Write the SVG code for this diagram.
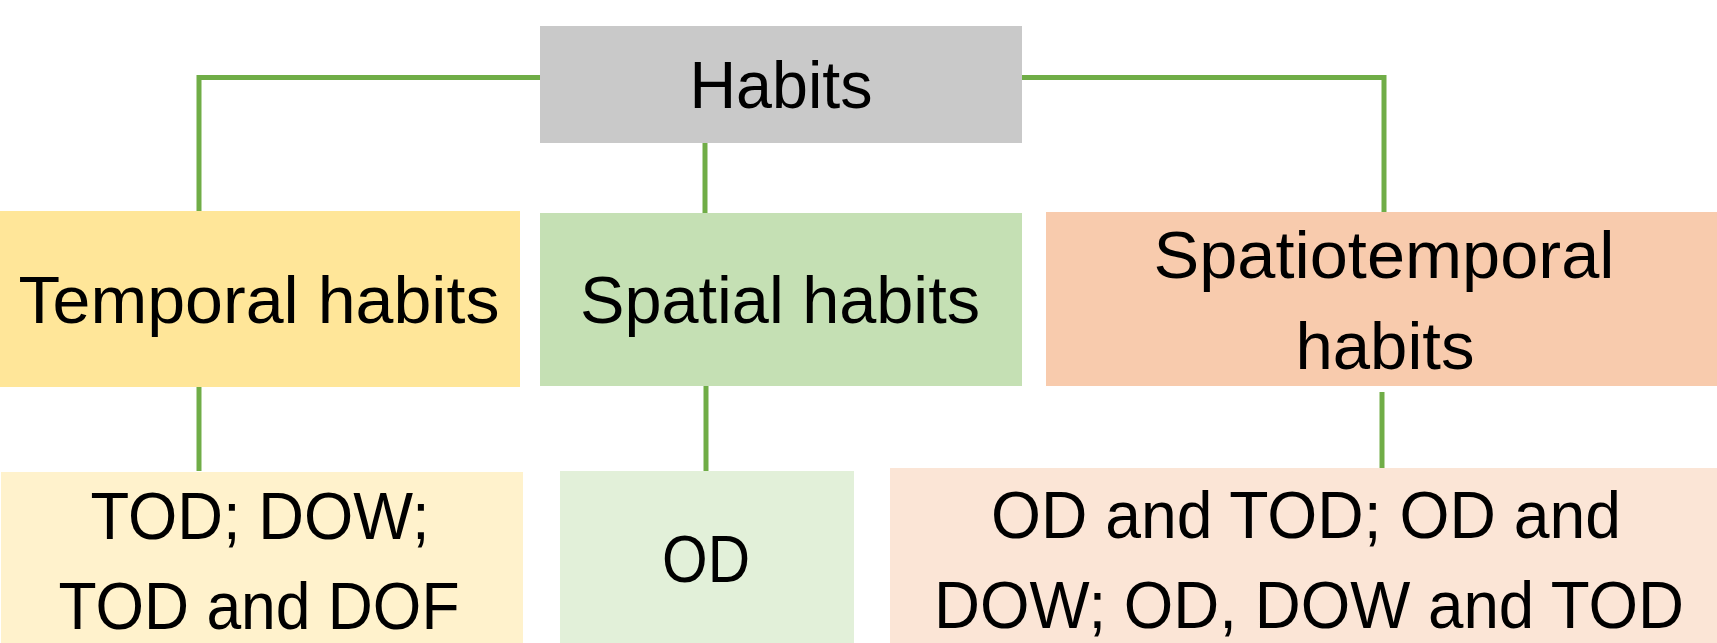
<svg xmlns="http://www.w3.org/2000/svg" width="1717" height="643" viewBox="0 0 1717 643">
<style>
.lbl{font-family:"Liberation Sans",Arial,sans-serif;font-size:66px;fill:#000;text-anchor:middle}
.conn{stroke:#70AD47;stroke-width:5;fill:none;stroke-linecap:butt}
</style>
<rect width="1717" height="643" fill="#fff"/>
<g id="connectors">
<polyline class="conn" points="540,77.5 199,77.5 199,211"/>
<polyline class="conn" points="1022,77.5 1384,77.5 1384,212"/>
<line class="conn" x1="705" y1="142" x2="705" y2="213"/>
<line class="conn" x1="199" y1="386" x2="199" y2="471"/>
<line class="conn" x1="706" y1="386" x2="706" y2="471"/>
<line class="conn" x1="1382" y1="392" x2="1382" y2="468"/>
</g>
<g id="habits">
<rect x="540" y="26" width="482" height="117" fill="#C9C9C9"/>
<text class="lbl" x="781" y="108" textLength="183" lengthAdjust="spacingAndGlyphs">Habits</text>
</g>
<g id="temporal">
<rect x="0" y="211" width="520" height="176" fill="#FFE699"/>
<text class="lbl" x="259" y="323" textLength="481" lengthAdjust="spacingAndGlyphs">Temporal habits</text>
</g>
<g id="spatial">
<rect x="540" y="213" width="482" height="173" fill="#C5E0B4"/>
<text class="lbl" x="780" y="323" textLength="400" lengthAdjust="spacingAndGlyphs">Spatial habits</text>
</g>
<g id="spatiotemporal">
<rect x="1046" y="212" width="671" height="174" fill="#F8CBAD"/>
<text class="lbl" x="1384" y="278" textLength="461" lengthAdjust="spacingAndGlyphs">Spatiotemporal</text>
<text class="lbl" x="1385" y="369" textLength="179" lengthAdjust="spacingAndGlyphs">habits</text>
</g>
<g id="temporal-items">
<rect x="1" y="472" width="522" height="171" fill="#FFF2CC"/>
<text class="lbl" x="260" y="539" textLength="339" lengthAdjust="spacingAndGlyphs">TOD; DOW;</text>
<text class="lbl" x="259" y="629" textLength="401" lengthAdjust="spacingAndGlyphs">TOD and DOF</text>
</g>
<g id="spatial-items">
<rect x="560" y="471" width="294" height="172" fill="#E2F0D9"/>
<text class="lbl" x="706" y="582" textLength="88" lengthAdjust="spacingAndGlyphs">OD</text>
</g>
<g id="spatiotemporal-items">
<rect x="890" y="468" width="827" height="175" fill="#FBE5D6"/>
<text class="lbl" x="1306" y="538" textLength="630" lengthAdjust="spacingAndGlyphs">OD and TOD; OD and</text>
<text class="lbl" x="1309" y="628" textLength="750" lengthAdjust="spacingAndGlyphs">DOW; OD, DOW and TOD</text>
</g>
</svg>
